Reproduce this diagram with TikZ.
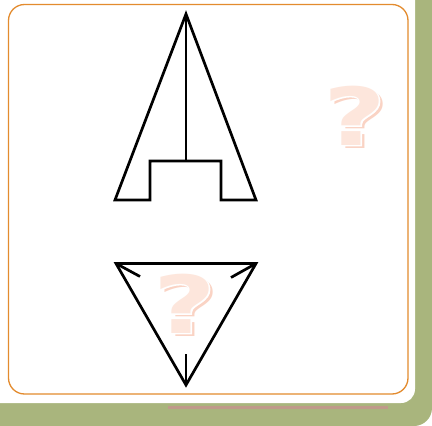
\documentclass[tikz,border=0pt]{standalone}
\usepackage{fontspec}
\newfontfamily\qfont[FakeBold=2]{DejaVu Sans Bold}
\newfontfamily\qfontplain{DejaVu Sans Bold}
\definecolor{cardgreen}{HTML}{A9B57D}
\definecolor{frameorange}{HTML}{E38B2E}
\definecolor{shelfpink}{HTML}{BF9A8A}
\definecolor{qfront}{HTML}{FDE6DC}
\definecolor{qshade}{HTML}{FAD3C4}
\tikzset{
  figline/.style={line width=2.7pt, line join=miter, black},
  qmark/.style={inner sep=0pt, xscale=1.35, font=\qfontplain\fontsize{80}{80}\selectfont},
}
\begin{document}
\begin{tikzpicture}[x=1pt, y=-1pt]
  \useasboundingbox (0,0) rectangle (432,426);
  % Card background
  \fill[cardgreen] (0,0) -- (432,0) [rounded corners=18pt] -- (432,426) [sharp corners] -- (0,426) -- cycle;
  \fill[white, rounded corners=14pt] (-20,-20) rectangle (415,403);
  \draw[shelfpink, line width=3pt] (168,407.5) -- (388,407.5);
  \draw[frameorange, line width=1.3pt, rounded corners=16pt] (8.5,4.5) rectangle (408,394);
  % Faded question marks
  \foreach \name/\px/\py in {q1/355/116, q2/185/304} {
    \node[qmark, text=qshade] at (\px+4,\py+3) {?};
    \node[qmark, text=white, font=\qfont\fontsize{80}{80}\selectfont] at (\px,\py) {?};
    \node[qmark, text=qfront] (\name) at (\px,\py) {?};
  }
  % Upper figure
  \draw[figline] (115,200) -- (186,14) -- (256,200) -- (221,200) -- (221,161)
    -- (150,161) -- (150,200) -- cycle;
  \draw[figline] (186,14) -- (186,161);
  % Lower triangle with ticks
  \draw[figline] (116,263.5) -- (256,263.5) -- (186,385) -- cycle;
  \draw[figline] (116,263.5) -- (140,276.5);
  \draw[figline] (256,263.5) -- (231,277.5);
  \draw[figline] (186,385) -- (186,354);
\end{tikzpicture}
\end{document}
